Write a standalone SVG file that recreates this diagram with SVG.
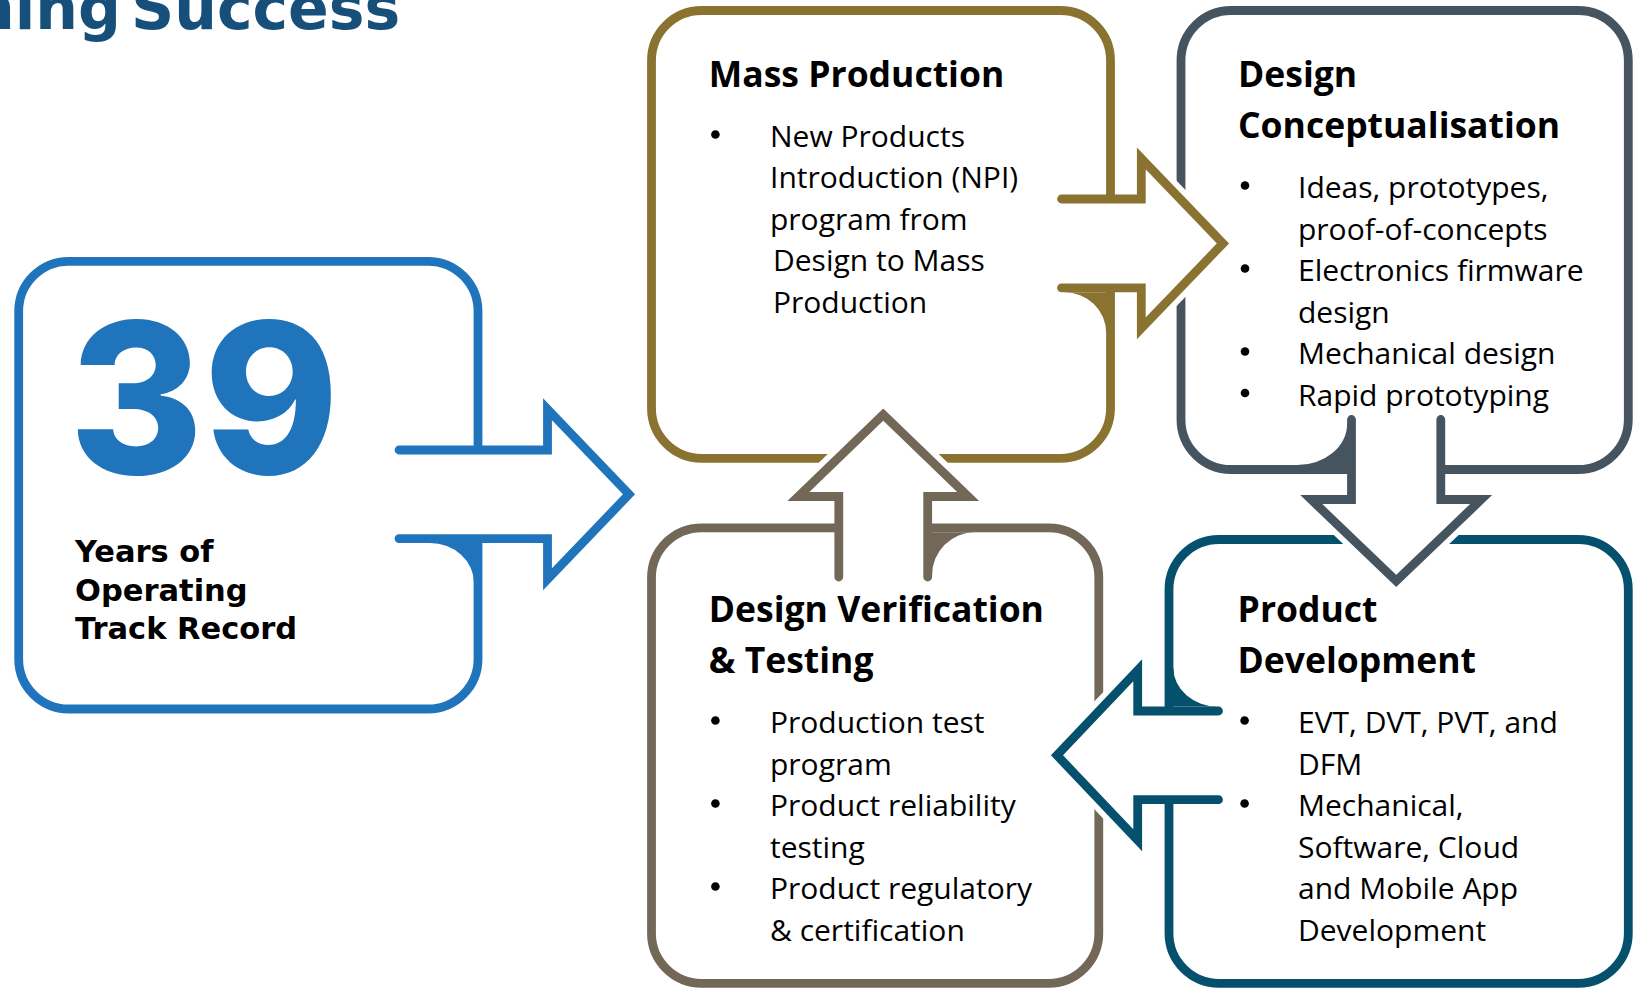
<svg xmlns="http://www.w3.org/2000/svg" width="1642" height="990" viewBox="0 0 1642 990">
<style>
.box{fill:#fff;stroke-width:8.8}
.hd{font-family:"Open Sans","Liberation Sans",sans-serif;font-weight:700;font-size:35.5px;fill:#000}
.bd{font-family:"Open Sans","Liberation Sans",sans-serif;font-size:30px;fill:#000}
.fillw{fill:#fff;stroke:none}
.halo{fill:none;stroke:#fff;stroke-width:20;stroke-linejoin:miter}
.arr{fill:none;stroke-width:8.8;stroke-linecap:round;stroke-linejoin:miter;stroke-miterlimit:10}
.yr{font-family:"DejaVu Sans","Liberation Sans",sans-serif;font-weight:700;font-size:30.5px;fill:#000}
</style>
<rect width="1642" height="990" fill="#fff"/>
<text x="-28" y="29" font-family="'DejaVu Sans','Liberation Sans',sans-serif" font-weight="700" font-size="60" fill="#16507A"><tspan>ning</tspan><tspan x="131">Success</tspan></text>

<g id="node-years">
<rect class="box" x="18.7" y="261.3" width="459.3" height="447.7" rx="50" stroke="#2074BC"/>
<text x="69" y="474" font-family="Inter,'Liberation Sans',sans-serif" font-weight="800" font-size="210" fill="#2074BC" textLength="270" lengthAdjust="spacingAndGlyphs">39</text>
<text class="yr" x="75" y="561.7">Years of</text>
<text class="yr" x="75" y="600.5">Operating</text>
<text class="yr" x="75" y="638.5">Track Record</text>
</g>

<g id="node-mass-production">
<rect class="box" x="651.5" y="10.5" width="459" height="447.8" rx="50" stroke="#8A7330"/>
<text class="hd" x="708.8" y="87.3">Mass Production</text>
<circle cx="715.4" cy="134.5" r="4.3"/>
<text class="bd" x="770" y="146.5">New Products</text>
<text class="bd" x="770" y="188">Introduction (NPI)</text>
<text class="bd" x="770" y="229.5">program from</text>
<text class="bd" x="773" y="271">Design to Mass</text>
<text class="bd" x="773" y="312.5">Production</text>
</g>

<g id="node-design-conceptualisation">
<rect class="box" x="1181" y="10.5" width="447.3" height="459" rx="50" stroke="#45545F"/>
<text class="hd" x="1238" y="87.3">Design</text>
<text class="hd" x="1238" y="138.3">Conceptualisation</text>
<circle cx="1245" cy="185.5" r="4.3"/>
<circle cx="1245" cy="268.5" r="4.3"/>
<circle cx="1245" cy="351.5" r="4.3"/>
<circle cx="1245" cy="393" r="4.3"/>
<text class="bd" x="1298" y="198">Ideas, prototypes,</text>
<text class="bd" x="1298" y="239.5">proof-of-concepts</text>
<text class="bd" x="1298" y="281">Electronics firmware</text>
<text class="bd" x="1298" y="322.5">design</text>
<text class="bd" x="1298" y="364">Mechanical design</text>
<text class="bd" x="1298" y="405.5">Rapid prototyping</text>
</g>

<g id="node-design-verification">
<rect class="box" x="651.5" y="527.8" width="447.3" height="455.5" rx="50" stroke="#736758"/>
<text class="hd" x="708.8" y="622">Design Verification</text>
<text class="hd" x="708.8" y="672.5">&amp; Testing</text>
<circle cx="715.4" cy="720.5" r="4.3"/>
<circle cx="715.4" cy="803.5" r="4.3"/>
<circle cx="715.4" cy="886.5" r="4.3"/>
<text class="bd" x="770" y="733">Production test</text>
<text class="bd" x="770" y="774.5">program</text>
<text class="bd" x="770" y="816">Product reliability</text>
<text class="bd" x="770" y="857.5">testing</text>
<text class="bd" x="770" y="899">Product regulatory</text>
<text class="bd" x="770" y="940.5">&amp; certification</text>
</g>

<g id="node-product-development">
<rect class="box" x="1169" y="539.5" width="459.3" height="443.8" rx="50" stroke="#05506C"/>
<text class="hd" x="1237.6" y="622">Product</text>
<text class="hd" x="1237.6" y="672.5">Development</text>
<circle cx="1244.6" cy="720.5" r="4.3"/>
<circle cx="1244.6" cy="803.5" r="4.3"/>
<text class="bd" x="1298" y="733">EVT, DVT, PVT, and</text>
<text class="bd" x="1298" y="774.5">DFM</text>
<text class="bd" x="1298" y="816">Mechanical,</text>
<text class="bd" x="1298" y="857.5">Software, Cloud</text>
<text class="bd" x="1298" y="899">and Mobile App</text>
<text class="bd" x="1298" y="940.5">Development</text>
</g>

<g id="connectors">
<!-- blue: years -> mass production -->
<g stroke="#2074BC" fill="#2074BC">
<path class="fillw" d="M399,450 H547.5 V409.3 L629,494.3 L547.5,579.3 V538.6 H399 Z"/>
<path class="halo" d="M547.5,409.3 L629,494.3 L547.5,579.3"/>
<path class="arr" d="M399,450 H547.5 V409.3 L629,494.3 L547.5,579.3 V538.6 H399"/>
<path stroke="none" d="M474,583 A44,40 0 0 0 430,543 H478 V583 Z"/>
</g>
<!-- olive: mass production -> design conceptualisation -->
<g stroke="#8A7330" fill="#8A7330">
<path class="fillw" d="M1061.5,199 H1141.3 V158.4 L1223,243.4 L1141.3,328.4 V287.8 H1061.5 Z"/>
<path class="halo" d="M1141.3,158.4 L1223,243.4 L1141.3,328.4"/>
<path class="arr" d="M1061.5,199 H1141.3 V158.4 L1223,243.4 L1141.3,328.4 V287.8 H1061.5"/>
<path stroke="none" d="M1106.2,333 A42,40.7 0 0 0 1064,292.2 H1110.5 V333 Z"/>
</g>
<!-- slate: design conceptualisation -> product development -->
<g stroke="#45545F" fill="#45545F">
<path class="fillw" d="M1351.5,419.5 V499.5 H1311.2 L1396.2,581 L1481.2,499.5 H1440.8 V419.5 Z"/>
<path class="halo" d="M1311.2,499.5 L1396.2,581 L1481.2,499.5"/>
<path class="arr" d="M1351.5,419.5 V499.5 H1311.2 L1396.2,581 L1481.2,499.5 H1440.8 V419.5"/>
<path stroke="none" d="M1347.1,424 A50,41 0 0 1 1297,465.1 H1351.5 V424 Z"/>
</g>
<!-- teal: product development -> design verification -->
<g stroke="#05506C" fill="#05506C">
<path class="fillw" d="M1218.5,711 H1137.7 V670.3 L1057,755.3 L1137.7,840.3 V799.7 H1218.5 Z"/>
<path class="halo" d="M1137.7,670.3 L1057,755.3 L1137.7,840.3"/>
<path class="arr" d="M1218.5,711 H1137.7 V670.3 L1057,755.3 L1137.7,840.3 V799.7 H1218.5"/>
<path stroke="none" d="M1173.4,668 A44.6,38.6 0 0 0 1218,706.6 H1169 V668 Z"/>
</g>
<!-- taupe: design verification -> mass production -->
<g stroke="#736758" fill="#736758">
<path class="fillw" d="M838.8,577 V496.5 H798.25 L883.25,414.5 L968.25,496.5 H927.7 V577 Z"/>
<path class="halo" d="M798.25,496.5 L883.25,414.5 L968.25,496.5"/>
<path class="arr" d="M838.8,577 V496.5 H798.25 L883.25,414.5 L968.25,496.5 H927.7 V577"/>
<path stroke="none" d="M932.1,575 A42.9,42.8 0 0 1 975,532.2 H927.7 V575 Z"/>
</g>
</g>
</svg>
